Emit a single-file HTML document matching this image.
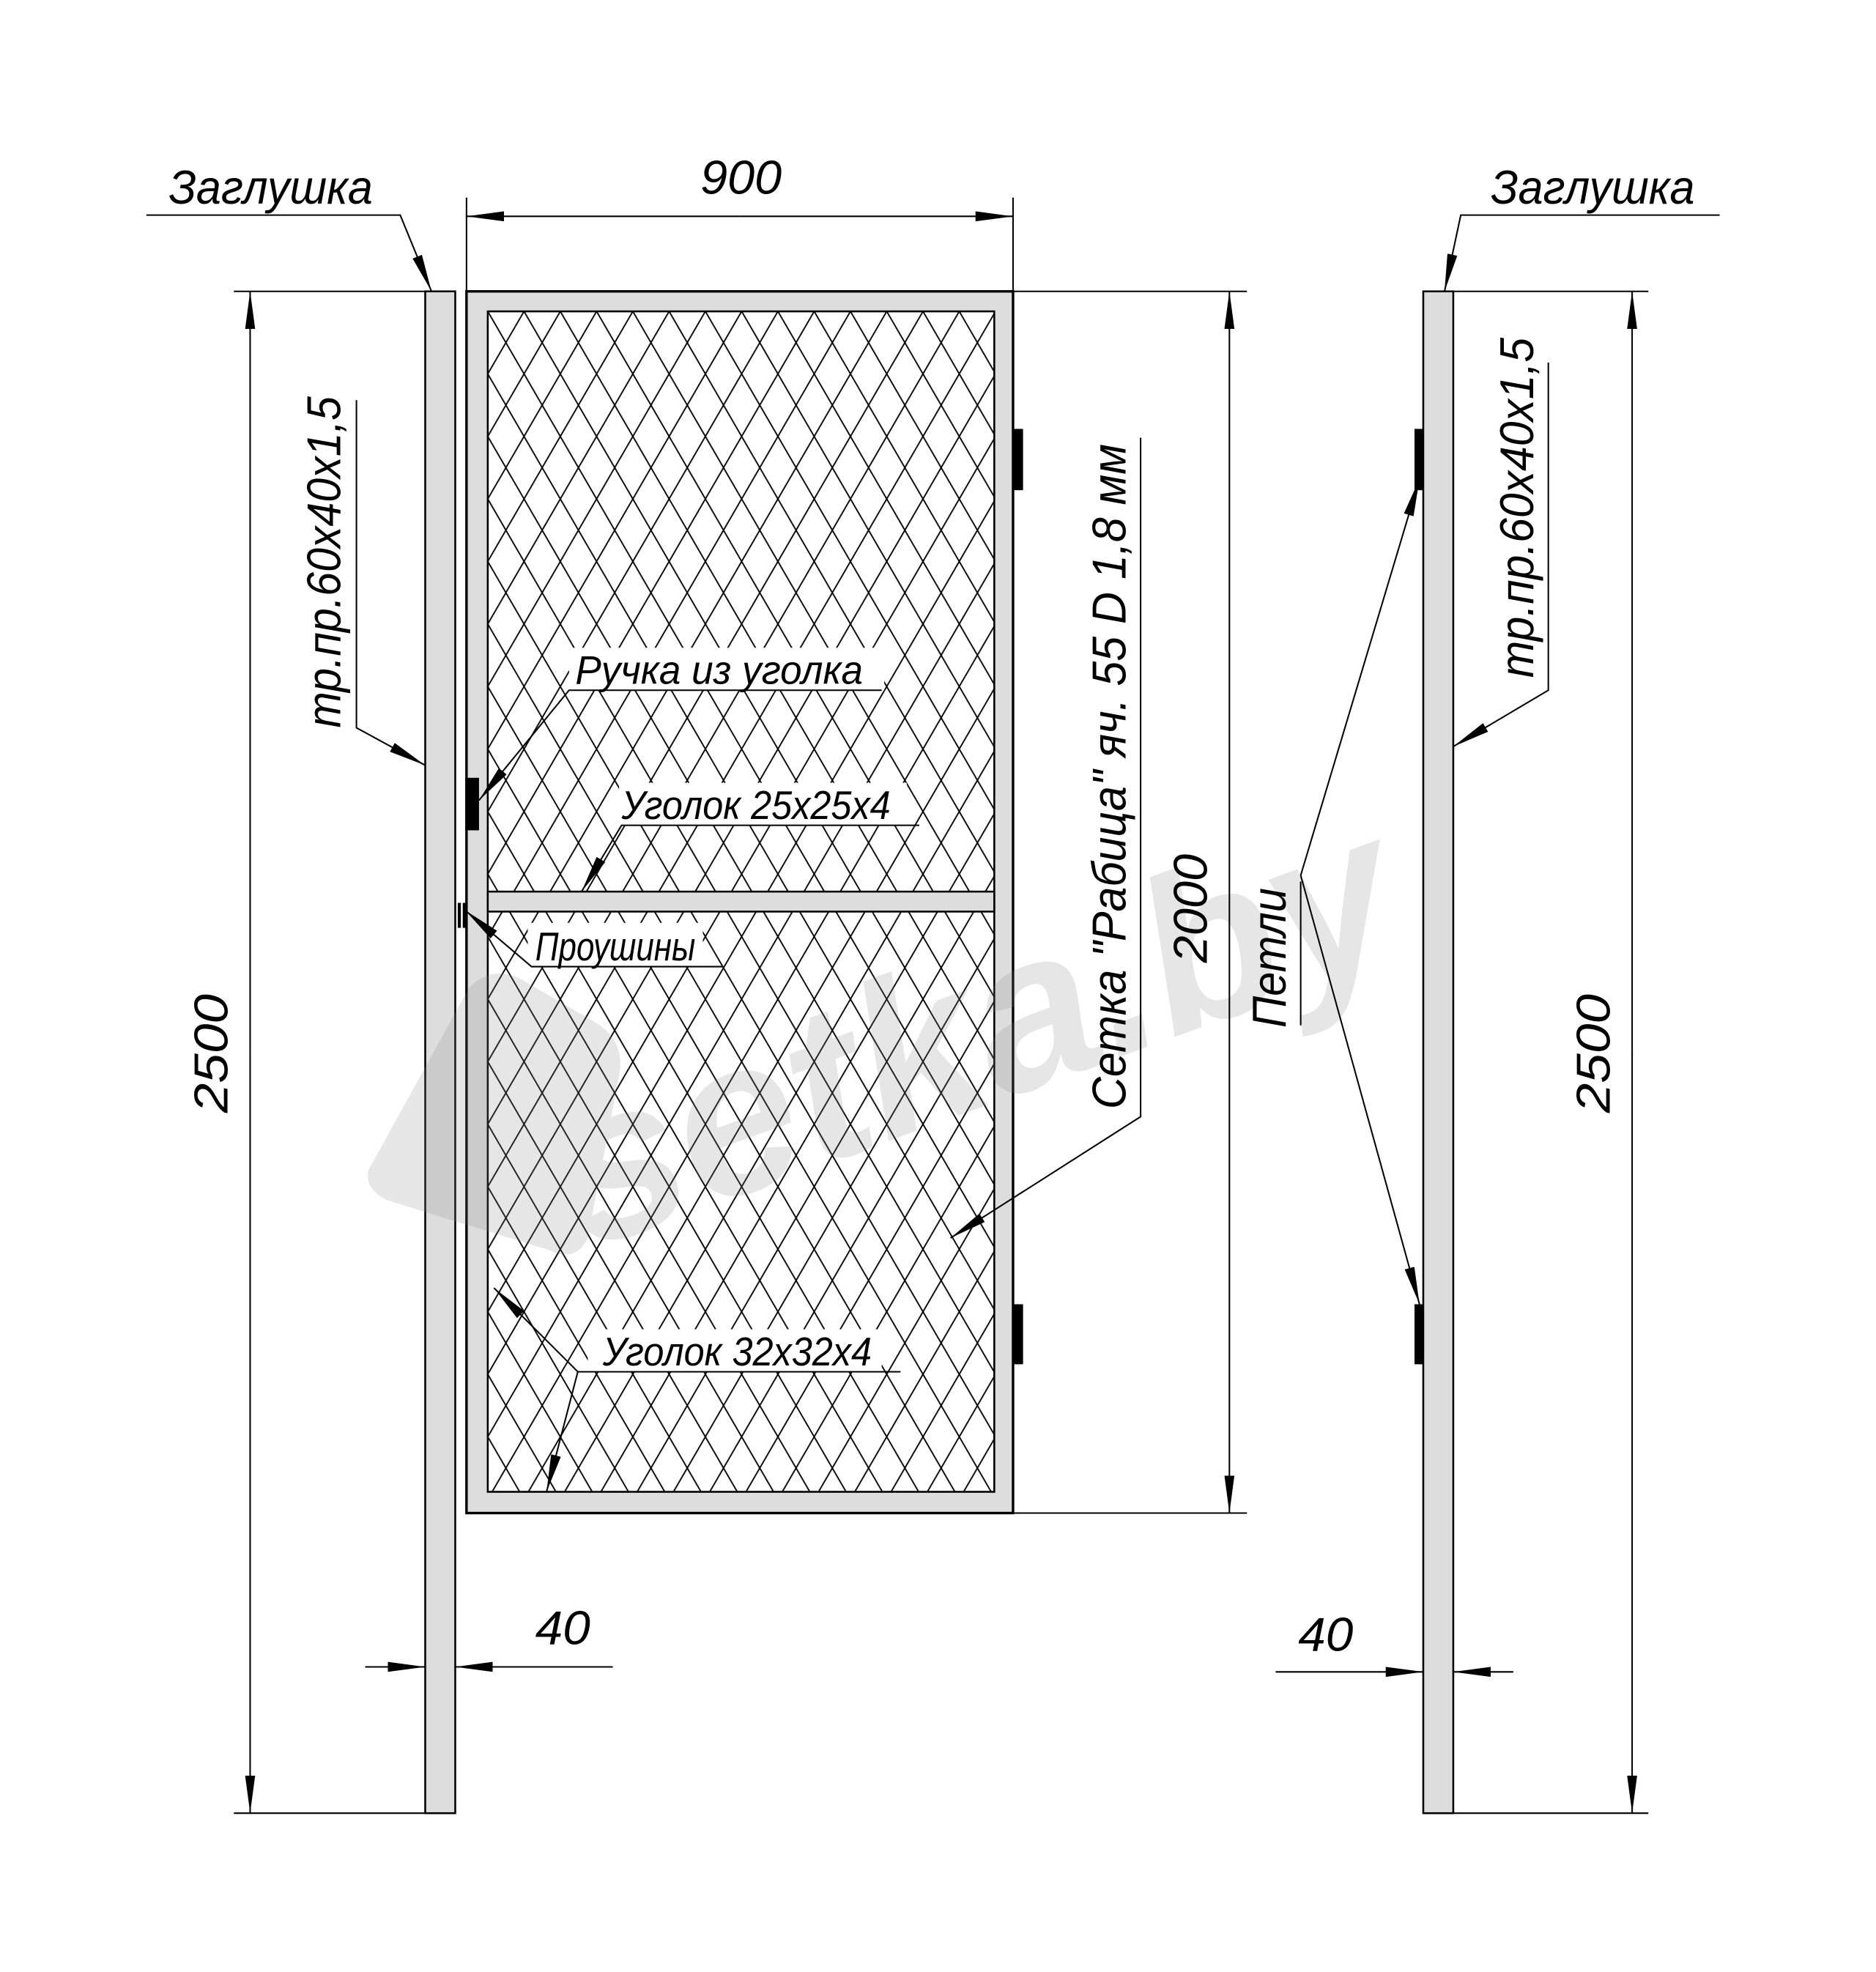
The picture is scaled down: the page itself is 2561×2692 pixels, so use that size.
<!DOCTYPE html>
<html><head><meta charset="utf-8"><style>
html,body{margin:0;padding:0;background:#fff;}
svg{display:block;}
text{font-family:"Liberation Sans",sans-serif;font-style:italic;fill:#000;}
</style></head><body>
<svg width="2561" height="2692" viewBox="0 0 1500 1577" preserveAspectRatio="none" xmlns="http://www.w3.org/2000/svg">
<defs>
<pattern id="mesh" x="390" y="249" width="29" height="50" patternUnits="userSpaceOnUse">
<path d="M0,0 L29,50 M29,0 L0,50 M-29,0 L0,50 M29,-50 L58,0" stroke="#000" stroke-width="1.1" fill="none"/>
</pattern>
<marker id="a" viewBox="0 0 30 8" refX="30" refY="4" markerWidth="30" markerHeight="8" markerUnits="userSpaceOnUse" orient="auto"><path d="M0,0 L30,4 L0,8 z" fill="#000"/></marker>
</defs>
<!-- left post -->
<rect x="340" y="233" width="24" height="1217" fill="#ddd" stroke="#000" stroke-width="1.5"/>
<!-- right post -->
<rect x="1138" y="233" width="24" height="1217" fill="#ddd" stroke="#000" stroke-width="1.5"/>
<!-- gate -->
<rect x="373" y="233" width="437" height="977" fill="#ddd" stroke="#000" stroke-width="2"/>
<rect x="390" y="249" width="405" height="944" fill="#fff" stroke="#000" stroke-width="1.5"/>
<rect x="390" y="249" width="405" height="944" fill="url(#mesh)"/>
<rect x="390" y="713" width="405" height="16" fill="#ddd" stroke="#000" stroke-width="1.5"/>
<!-- label backgrounds -->
<g fill="#fff">
<rect x="455" y="518" width="252" height="34"/>
<rect x="495" y="626" width="230" height="34"/>
<rect x="422" y="738" width="140" height="35"/>
<rect x="470" y="1063" width="235" height="34"/>
</g>
<!-- watermark -->
<g opacity="0.2" fill="#888">
<text x="0" y="0" transform="translate(470,1000) rotate(-20)" font-size="175" font-weight="bold" style="fill:#888">setka.by</text>
<path d="M295,935 L375,790 Q395,770 420,785 L480,820 Q500,835 495,860 L470,990 Q460,1010 440,1000 L310,960 Q290,950 295,935 Z"/>
</g>
<!-- hinges -->
<rect x="810" y="343" width="8" height="49" fill="#000"/>
<rect x="810" y="1043" width="8" height="48" fill="#000"/>
<rect x="1131" y="343" width="7" height="49" fill="#000"/>
<rect x="1131" y="1043" width="7" height="48" fill="#000"/>
<!-- handle -->
<rect x="372" y="622" width="11" height="42" fill="#000"/>
<rect x="366" y="722" width="2.5" height="20" fill="#000"/>
<rect x="370" y="722" width="2.5" height="20" fill="#000"/>
<g stroke="#000" stroke-width="1.2" fill="none">
<line x1="373" y1="158" x2="373" y2="233"/><line x1="810" y1="158" x2="810" y2="233"/>
<line x1="592" y1="173" x2="373" y2="173" marker-end="url(#a)"/><line x1="592" y1="173" x2="810" y2="173" marker-end="url(#a)"/>
<line x1="810" y1="233" x2="997" y2="233"/><line x1="810" y1="1210" x2="997" y2="1210"/>
<line x1="983" y1="720" x2="983" y2="233" marker-end="url(#a)"/><line x1="983" y1="720" x2="983" y2="1210" marker-end="url(#a)"/>
<line x1="187" y1="233" x2="340" y2="233"/><line x1="187" y1="1450" x2="340" y2="1450"/>
<line x1="200" y1="840" x2="200" y2="233" marker-end="url(#a)"/><line x1="200" y1="840" x2="200" y2="1450" marker-end="url(#a)"/>
<line x1="1162" y1="233" x2="1318" y2="233"/><line x1="1162" y1="1450" x2="1318" y2="1450"/>
<line x1="1305" y1="840" x2="1305" y2="233" marker-end="url(#a)"/><line x1="1305" y1="840" x2="1305" y2="1450" marker-end="url(#a)"/>
<line x1="292" y1="1333" x2="340" y2="1333" marker-end="url(#a)"/><line x1="490" y1="1333" x2="364" y2="1333" marker-end="url(#a)"/>
<line x1="1020" y1="1337" x2="1138" y2="1337" marker-end="url(#a)"/><line x1="1210" y1="1337" x2="1162" y2="1337" marker-end="url(#a)"/>
<polyline points="117,172 320,172 345,233" marker-end="url(#a)"/>
<polyline points="1375,172 1168,172 1155,233" marker-end="url(#a)"/>
<polyline points="285,320 285,582 340,612" marker-end="url(#a)"/>
<polyline points="1238,290 1238,552 1162,597" marker-end="url(#a)"/>
<polyline points="705,552 455,552 383,640" marker-end="url(#a)"/>
<polyline points="735,660 497,660 465,713" marker-end="url(#a)"/>
<polyline points="578,773 425,773 372,728" marker-end="url(#a)"/>
<polyline points="912,350 912,893 760,990" marker-end="url(#a)"/>
<polyline points="720,1097 462,1097 395,1030" marker-end="url(#a)"/>
<line x1="462" y1="1097" x2="437" y2="1193" marker-end="url(#a)"/>
<line x1="1040" y1="705" x2="1040" y2="820"/>
<line x1="1040" y1="700" x2="1135" y2="383" marker-end="url(#a)"/>
<line x1="1040" y1="700" x2="1135" y2="1043" marker-end="url(#a)"/>
</g>
<g font-size="38">
<text x="560" y="155" textLength="65" lengthAdjust="spacingAndGlyphs">900</text>
<text x="135" y="163" textLength="163" lengthAdjust="spacingAndGlyphs">Заглушка</text>
<text x="1192" y="163" textLength="163" lengthAdjust="spacingAndGlyphs">Заглушка</text>
<text x="460" y="547" font-size="32" textLength="230" lengthAdjust="spacingAndGlyphs">Ручка из уголка</text>
<text x="497" y="655" font-size="32" textLength="215" lengthAdjust="spacingAndGlyphs">Уголок 25х25х4</text>
<text x="428" y="768" font-size="32" textLength="128" lengthAdjust="spacingAndGlyphs">Проушины</text>
<text x="482" y="1092" font-size="32" textLength="215" lengthAdjust="spacingAndGlyphs">Уголок 32х32х4</text>
<text x="428" y="1315" textLength="44" lengthAdjust="spacingAndGlyphs">40</text>
<text x="1038" y="1320" textLength="44" lengthAdjust="spacingAndGlyphs">40</text>
<text transform="translate(182,890) rotate(-90)" textLength="95" lengthAdjust="spacingAndGlyphs">2500</text>
<text transform="translate(1287,890) rotate(-90)" textLength="95" lengthAdjust="spacingAndGlyphs">2500</text>
<text transform="translate(965,770) rotate(-90)" textLength="87" lengthAdjust="spacingAndGlyphs">2000</text>
<text transform="translate(272,582) rotate(-90)" textLength="265" lengthAdjust="spacingAndGlyphs">тр.пр.60х40х1,5</text>
<text transform="translate(1226,542) rotate(-90)" textLength="272" lengthAdjust="spacingAndGlyphs">тр.пр.60х40х1,5</text>
<text transform="translate(900,887) rotate(-90)" textLength="532" lengthAdjust="spacingAndGlyphs">Сетка "Рабица" яч. 55 D 1,8 мм</text>
<text transform="translate(1028,822) rotate(-90)" textLength="112" lengthAdjust="spacingAndGlyphs">Петли</text>
</g>
</svg>
</body></html>
